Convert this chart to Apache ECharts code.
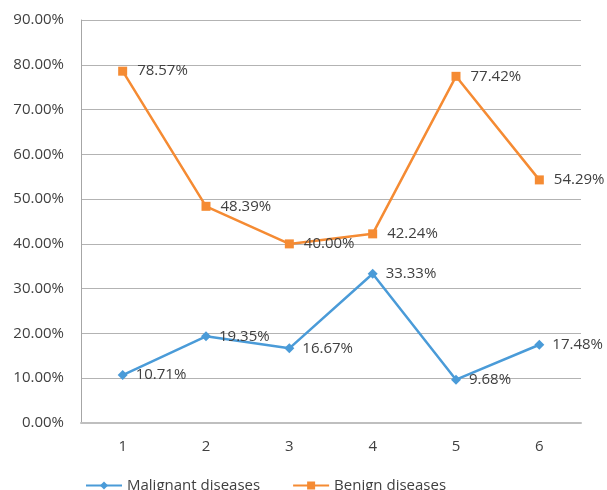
<!DOCTYPE html>
<html>
<head>
<meta charset="utf-8">
<script src="https://cdn.jsdelivr.net/npm/echarts@6/dist/echarts.min.js"></script>
<style>
  html, body { margin: 0; padding: 0; background: #fff; }
  #chart { width: 607px; height: 490px; }
</style>
</head>
<body>
<div id="chart"></div>
<script>
var categories = ['1', '2', '3', '4', '5', '6'];
var malignant = [10.71, 19.35, 16.67, 33.33, 9.68, 17.48];
var benign = [78.57, 48.39, 40.00, 42.24, 77.42, 54.29];

var myChart = echarts.init(document.getElementById('chart'));
var font = '"Open Sans", "DejaVu Sans", sans-serif';

var pctLabel = function (p) {
  return p.value.toFixed(2) + '%';
};

var option = {
  animation: false,
  textStyle: { fontFamily: font },
  legend: {
    bottom: -8,
    left: 80,
    itemWidth: 36,
    itemHeight: 10,
    itemGap: 32,
    textStyle: { fontSize: 15, color: '#404040', fontFamily: font },
    data: ['Malignant diseases', 'Benign diseases']
  },
  grid: {
    left: 81,
    right: 26,
    top: 20,
    bottom: 67
  },
  xAxis: {
    type: 'category',
    data: categories,
    axisLine: { lineStyle: { color: '#bfbfbf', width: 2 } },
    axisTick: { show: false },
    axisLabel: { fontSize: 15, color: '#404040', margin: 16, fontFamily: font }
  },
  yAxis: {
    type: 'value',
    min: 0,
    max: 90,
    interval: 10,
    axisLine: { show: true, lineStyle: { color: '#a6a6a6' } },
    axisTick: { show: false },
    splitLine: { lineStyle: { color: '#b3b3b3' } },
    axisLabel: {
      fontSize: 15,
      color: '#404040',
      margin: 17,
      fontFamily: font,
      formatter: function (v) { return v.toFixed(2) + '%'; }
    }
  },
  series: [
    {
      name: 'Malignant diseases',
      type: 'line',
      data: malignant,
      symbol: 'diamond',
      symbolSize: 10,
      itemStyle: { color: '#4a9bd8' },
      lineStyle: { width: 2.5, color: '#4a9bd8' },
      label: {
        show: true,
        position: 'right',
        distance: 8,
        fontSize: 15,
        color: '#404040',
        fontFamily: font,
        formatter: pctLabel
      }
    },
    {
      name: 'Benign diseases',
      type: 'line',
      data: benign,
      symbol: 'rect',
      symbolSize: 9,
      itemStyle: { color: '#f58b33' },
      lineStyle: { width: 2.5, color: '#f58b33' },
      label: {
        show: true,
        position: 'right',
        distance: 10,
        fontSize: 15,
        color: '#404040',
        fontFamily: font,
        formatter: pctLabel
      }
    }
  ]
};
option && myChart.setOption(option);
</script>
</body>
</html>
